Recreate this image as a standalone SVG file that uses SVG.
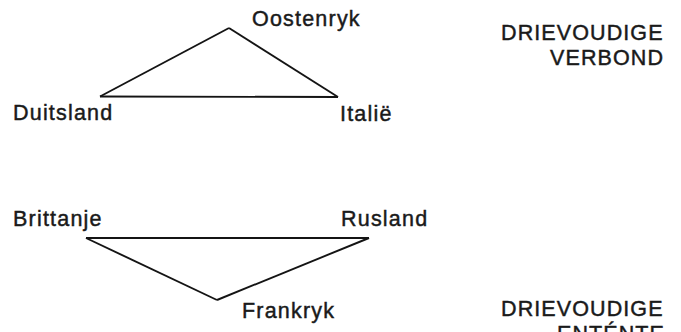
<svg xmlns="http://www.w3.org/2000/svg" width="681" height="332" viewBox="0 0 681 332">
  <style>
    .lbl { font-family: "Liberation Sans", Arial, sans-serif; font-size: 21.5px; fill: #1a1a1a; stroke: #1a1a1a; stroke-width: 0.45; letter-spacing: 1.2px; }
    .cap { font-family: "Liberation Sans", Arial, sans-serif; font-size: 21.5px; fill: #1a1a1a; stroke: #1a1a1a; stroke-width: 0.45; letter-spacing: 1.1px; }
    .edge { stroke: #141414; stroke-width: 1.9; fill: none; stroke-linejoin: miter; }
  </style>
  <rect width="681" height="332" fill="#ffffff"/>

  <!-- connectors: the two alliance triangles -->
  <g id="connectors">
    <path class="edge" d="M229,28 L100,96.5"/>
    <path class="edge" d="M229,28 L338,97"/>
    <path class="edge" d="M100,96.5 L338,97"/>
    <path class="edge" d="M86,238 L369,238"/>
    <path class="edge" d="M86,238 L217,300"/>
    <path class="edge" d="M369,238 L217,300"/>
  </g>

  <!-- Triple Alliance -->
  <g id="oostenryk"><text class="lbl" x="252" y="26">Oostenryk</text></g>
  <g id="duitsland"><text class="lbl" x="13" y="120">Duitsland</text></g>
  <g id="italie"><text class="lbl" x="340" y="121">Italië</text></g>
  <g id="drievoudige-verbond">
    <text class="cap" x="501" y="40">DRIEVOUDIGE</text>
    <text class="cap" x="550" y="65">VERBOND</text>
  </g>

  <!-- Triple Entente -->
  <g id="brittanje"><text class="lbl" x="13" y="226">Brittanje</text></g>
  <g id="rusland"><text class="lbl" x="341" y="226">Rusland</text></g>
  <g id="frankryk"><text class="lbl" x="242" y="318">Frankryk</text></g>
  <g id="drievoudige-entente">
    <text class="cap" x="501" y="316">DRIEVOUDIGE</text>
    <text class="cap" x="557" y="341">ENTÉNTE</text>
  </g>
</svg>
